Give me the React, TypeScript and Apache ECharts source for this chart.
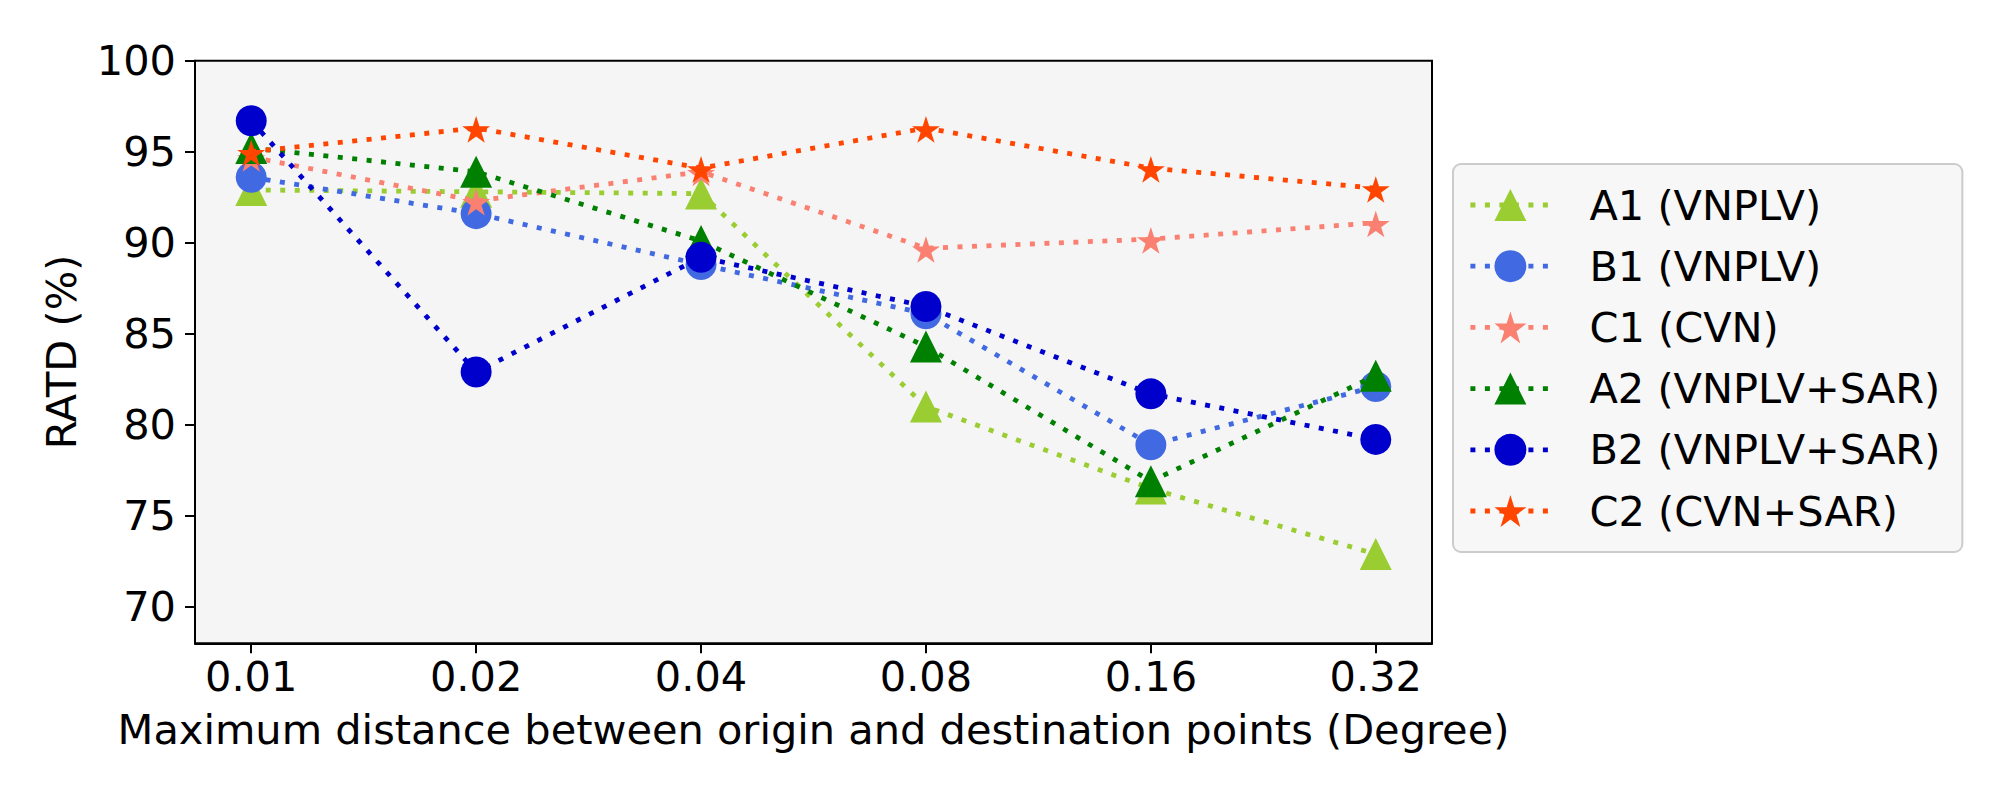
import React, { useEffect, useRef } from "react";
import * as echarts from "echarts";

const xLabels = ["0.01", "0.02", "0.04", "0.08", "0.16", "0.32"];
const yTicks = [70, 75, 80, 85, 90, 95, 100];

const seriesNames = [
  "A1 (VNPLV)",
  "B1 (VNPLV)",
  "C1 (CVN)",
  "A2 (VNPLV+SAR)",
  "B2 (VNPLV+SAR)",
  "C2 (CVN+SAR)",
];
const a1 = [92.9, 92.8, 92.7, 81.0, 76.5, 72.9];
const b1 = [93.6, 91.6, 88.8, 86.1, 78.9, 82.1];
const c1 = [94.7, 92.3, 93.9, 89.7, 90.2, 91.1];
const a2 = [95.2, 93.9, 90.1, 84.3, 76.9, 82.7];
const b2 = [96.7, 82.9, 89.2, 86.5, 81.7, 79.2];
const c2 = [95.0, 96.3, 94.1, 96.3, 94.1, 93.0];

const seriesValues = [a1, b1, c1, a2, b2, c2];
const seriesColors = ["#9acd32", "#4169e1", "#fa8072", "#008000", "#0000cd", "#ff4500"];

function starPath(): string {
  const pts: string[] = [];
  const inner = 0.381966;
  for (let k = 0; k < 10; k++) {
    const r = k % 2 === 0 ? 1 : inner;
    const ang = (-90 + k * 36) * (Math.PI / 180);
    const x = r * Math.cos(ang);
    const y = r * Math.sin(ang);
    pts.push(`${k === 0 ? "M" : "L"}${x.toFixed(4)} ${y.toFixed(4)}`);
  }
  return "path://" + pts.join(" ") + " Z";
}

const FONT = "DejaVu Sans";
const FS = 41.5;
const LW = 4.8;
const DASH = [5, 9.5];

export default function App() {
  const ref = useRef<HTMLDivElement>(null);
  useEffect(() => {
    document.body.style.margin = "0";
    if (!ref.current) return;
    const chart = echarts.init(ref.current, undefined, { renderer: "svg" });
    const star = starPath();
    const symbols = ["triangle", "circle", star, "triangle", "circle", star];
    const sizes: any[] = [32, 31, 28, 32, 31, 28];

    const series = seriesValues.map((vals, si) => ({
      name: seriesNames[si],
      type: "line",
      data: vals.map((v, i) => [i, v]),
      symbol: symbols[si],
      symbolSize: sizes[si],
      symbolKeepAspect: true,
      symbolOffset: symbols[si] === star ? [0, 1.3] : [0, 0],
      showSymbol: true,
      showAllSymbol: true,
      color: seriesColors[si],
      itemStyle: { color: seriesColors[si] },
      lineStyle: {
        color: seriesColors[si],
        width: LW,
        type: DASH,
        cap: "butt",
      },
      emphasis: { disabled: true },
      z: 2 + si,
    }));

    chart.setOption({
      animation: false,
      backgroundColor: "#ffffff",
      textStyle: { fontFamily: FONT },
      grid: {
        left: 195,
        right: 568,
        top: 60.7,
        bottom: 156.7,
        show: true,
        backgroundColor: "#f5f5f5",
        borderColor: "#000000",
        borderWidth: 2,
      },
      legend: {
        orient: "vertical",
        left: 1453,
        top: 164,
        padding: [20, 22, 20, 15],
        itemWidth: 80,
        itemHeight: 40,
        itemGap: 19.2,
        backgroundColor: "#f7f7f7",
        borderColor: "#cccccc",
        borderWidth: 2,
        borderRadius: 8,
        data: seriesNames,
        lineStyle: { width: LW, type: DASH, cap: "butt" },
        textStyle: {
          fontFamily: FONT,
          fontSize: FS,
          color: "#000000",
          lineHeight: 40,
          padding: [0, 0, 0, 34],
        },
      },
      xAxis: {
        type: "value",
        min: -0.25,
        max: 5.25,
        name: "Maximum distance between origin and destination points (Degree)",
        nameLocation: "middle",
        nameGap: 65,
        nameTextStyle: { fontFamily: FONT, fontSize: FS, color: "#000000" },
        splitLine: { show: false },
        axisLine: { show: true, onZero: false, lineStyle: { color: "#000000", width: 2 } },
        axisTick: {
          show: true,
          length: 10,
          customValues: [0, 1, 2, 3, 4, 5],
          lineStyle: { color: "#000000", width: 2 },
        },
        axisLabel: {
          customValues: [0, 1, 2, 3, 4, 5],
          margin: 12,
          fontFamily: FONT,
          fontSize: FS,
          color: "#000000",
          formatter: (v: number) => xLabels[Math.round(v)] ?? "",
        },
      },
      yAxis: {
        type: "value",
        min: 68,
        max: 100,
        name: "RATD (%)",
        nameLocation: "middle",
        nameGap: 113,
        nameTextStyle: { fontFamily: FONT, fontSize: FS, color: "#000000" },
        splitLine: { show: false },
        axisLine: { show: true, onZero: false, lineStyle: { color: "#000000", width: 2 } },
        axisTick: {
          show: true,
          length: 10,
          customValues: yTicks,
          lineStyle: { color: "#000000", width: 2 },
        },
        axisLabel: {
          customValues: yTicks,
          margin: 19,
          fontFamily: FONT,
          fontSize: FS,
          color: "#000000",
        },
      },
      series,
    });
    return () => chart.dispose();
  }, []);
  return (
    <div
      ref={ref}
      style={{ position: "fixed", left: 0, top: 0, width: 2000, height: 800 }}
    />
  );
}
